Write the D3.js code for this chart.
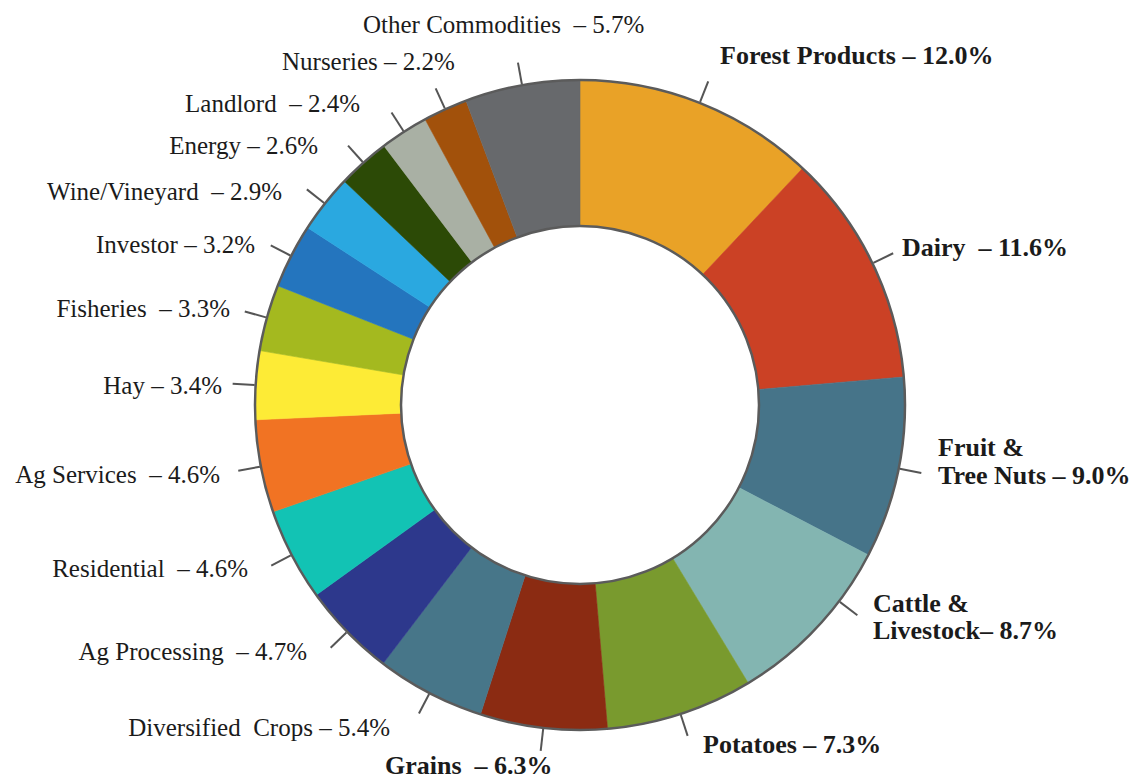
<!DOCTYPE html>
<html>
<head>
<meta charset="utf-8">
<script src="https://cdn.jsdelivr.net/npm/d3@7"></script>
<style>
  html, body { margin: 0; padding: 0; background: #ffffff; }
  svg { display: block; }
  text { font-family: "Liberation Serif", "Times New Roman", serif; fill: #1b1b1b; white-space: pre; }
</style>
</head>
<body>
<svg id="chart" width="1145" height="781"></svg>
<script>
// Share of loans by commodity group (percent), clockwise from 12 o'clock
const categories = [
  "Forest Products", "Dairy", "Fruit & Tree Nuts", "Cattle & Livestock", "Potatoes",
  "Grains", "Diversified  Crops", "Ag Processing", "Residential", "Ag Services",
  "Hay", "Fisheries", "Investor", "Wine/Vineyard", "Energy",
  "Landlord", "Nurseries", "Other Commodities"
];
const shares = [
  12.0, 11.6, 9.0, 8.7, 7.3,
  6.3, 5.4, 4.7, 4.6, 4.6,
  3.4, 3.3, 3.2, 2.9, 2.6,
  2.4, 2.2, 5.7
];
const sliceColors = [
  "#e9a227", "#cb4125", "#467489", "#83b5b1", "#799a2e",
  "#8b2b12", "#477689", "#2d388c", "#12c3b4", "#f17323",
  "#fdeb36", "#a4b91f", "#2475be", "#2aa8e0", "#2c4a06",
  "#a9b0a4", "#a2510b", "#67696c"
];
const boldCategories = ["Forest Products", "Dairy", "Fruit & Tree Nuts", "Cattle & Livestock", "Potatoes", "Grains"];

// Label placement: anchor side, text origin, separator before the value,
// optional line break after "&", optional leader rotation (degrees)
const labelLayout = {
  "Forest Products":    { anchor: "start", x: 720, y: 64,  sep: " – " },
  "Dairy":              { anchor: "start", x: 902, y: 256, sep: "  – " },
  "Fruit & Tree Nuts":  { anchor: "start", x: 938, y: 456, sep: " – ", wrap: true, lineGap: 28 },
  "Cattle & Livestock": { anchor: "start", x: 873, y: 612, sep: "– ", wrap: true, lineGap: 27, turn: -6 },
  "Potatoes":           { anchor: "start", x: 703, y: 753, sep: " – " },
  "Grains":             { anchor: "start", x: 385, y: 774, sep: "  – " },
  "Diversified  Crops": { anchor: "end",   x: 390, y: 736, sep: " – " },
  "Ag Processing":      { anchor: "end",   x: 307, y: 660, sep: "  – " },
  "Residential":        { anchor: "end",   x: 248, y: 577, sep: "  – " },
  "Ag Services":        { anchor: "end",   x: 220, y: 483, sep: "  – " },
  "Hay":                { anchor: "end",   x: 222, y: 394, sep: " – " },
  "Fisheries":          { anchor: "end",   x: 230, y: 317, sep: "  – " },
  "Investor":           { anchor: "end",   x: 255, y: 253, sep: " – " },
  "Wine/Vineyard":      { anchor: "end",   x: 282, y: 200, sep: "  – " },
  "Energy":             { anchor: "end",   x: 318, y: 154, sep: " – " },
  "Landlord":           { anchor: "end",   x: 360, y: 112, sep: "  – " },
  "Nurseries":          { anchor: "start", x: 282, y: 70,  sep: " – " },
  "Other Commodities":  { anchor: "start", x: 363, y: 33,  sep: "  – " }
};

const cx = 580, cy = 405;
const outerR = 325, innerR = 179, leaderLen = 23;

const data = categories.map((name, i) => ({ name, value: shares[i], color: sliceColors[i] }));

const svg = d3.select("#chart");
const g = svg.append("g").attr("transform", `translate(${cx},${cy})`);

const pie = d3.pie().sort(null).value(d => d.value).startAngle(0).endAngle(2 * Math.PI);
const arcs = pie(data);
const arc = d3.arc().innerRadius(innerR).outerRadius(outerR);

// Ring slices
g.selectAll("path.slice")
  .data(arcs)
  .join("path")
  .attr("class", "slice")
  .attr("d", arc)
  .attr("fill", d => d.data.color)
  .attr("stroke", d => d.data.color)
  .attr("stroke-width", 0.6);

// Outline on the outer and inner edges of the ring
g.append("circle").attr("r", outerR).attr("fill", "none").attr("stroke", "#5b5b5b").attr("stroke-width", 2.5);
g.append("circle").attr("r", innerR).attr("fill", "#ffffff").attr("stroke", "#5b5b5b").attr("stroke-width", 2.5);

// Leader ticks pointing out from each slice
const polar = (angle, r) => [Math.sin(angle) * r, -Math.cos(angle) * r];
g.selectAll("line.leader")
  .data(arcs)
  .join("line")
  .attr("class", "leader")
  .each(function (d) {
    const lay = labelLayout[d.data.name];
    const a = (d.startAngle + d.endAngle) / 2 + ((lay.turn || 0) * Math.PI / 180);
    const [x1, y1] = polar(a, outerR + 1);
    const [x2, y2] = polar(a, outerR + leaderLen);
    d3.select(this).attr("x1", x1).attr("y1", y1).attr("x2", x2).attr("y2", y2);
  })
  .attr("stroke", "#555555")
  .attr("stroke-width", 2);

// Category labels with their shares
const fmt = v => `${v.toFixed(1)}%`;
const labels = svg.selectAll("text.label")
  .data(data)
  .join("text")
  .attr("class", "label")
  .attr("text-anchor", d => labelLayout[d.name].anchor)
  .attr("x", d => labelLayout[d.name].x)
  .attr("y", d => labelLayout[d.name].y)
  .style("font-size", d => boldCategories.includes(d.name) ? "26px" : "25px")
  .style("font-weight", d => boldCategories.includes(d.name) ? "bold" : "normal");

labels.each(function (d) {
  const lay = labelLayout[d.name];
  const t = d3.select(this);
  const tail = lay.sep + fmt(d.value);
  if (lay.wrap) {
    const cut = d.name.indexOf("&") + 1;
    t.append("tspan").attr("x", lay.x).text(d.name.slice(0, cut));
    t.append("tspan").attr("x", lay.x).attr("dy", lay.lineGap)
      .text(d.name.slice(cut).trim() + tail);
  } else {
    t.text(d.name + tail);
  }
});
</script>
</body>
</html>
